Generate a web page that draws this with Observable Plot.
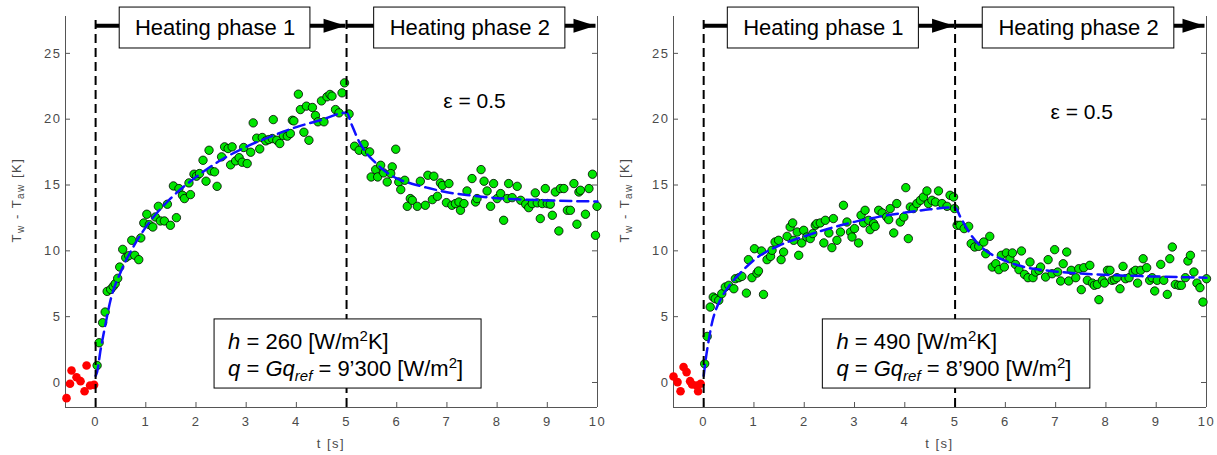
<!DOCTYPE html>
<html><head><meta charset="utf-8">
<script src="https://cdn.jsdelivr.net/npm/d3@7"></script>
<script src="https://cdn.jsdelivr.net/npm/@observablehq/plot@0.6"></script>
<style>
body{margin:0;background:#fff;}
#wrap{position:relative;width:1217px;height:455px;display:flex;}
</style></head><body><div id="wrap"></div>
<script>
// ---------- DATA ----------
const xTicks = [0,1,2,3,4,5,6,7,8,9,10];
const yTicks = [0,5,10,15,20,25];
const phaseLabels = ["Heating phase 1", "Heating phase 2"];
const epsLabel = "ε = 0.5";
const xLabel = "t [s]";
const hValues = ["260", "490"];
const qValues = ["9’300", "8’900"];

// Left panel: reference (pre-heating) points
const preT_L = [-0.58,-0.51,-0.48,-0.38,-0.30,-0.22,-0.18,-0.11,-0.03];
const preY_L = [-1.19,-0.10,0.91,0.40,0.10,-0.66,1.29,-0.23,-0.18];
// Left panel: heating phase 1 measured points
const ph1T_L = [0.03,0.07,0.14,0.19,0.23,0.30,0.35,0.39,0.44,0.48,0.54,0.60,0.66,0.72,0.78,0.86,0.90,0.96,1.02,1.07,1.14,1.19,1.25,1.29,1.37,1.43,1.49,1.61,1.55,1.66,1.73,1.77,1.89,1.86,1.96,2.01,2.07,2.14,2.20,2.26,2.30,2.37,2.42,2.51,2.57,2.64,2.72,2.69,2.79,2.86,2.92,3.02,2.95,3.09,3.14,3.21,3.27,3.32,3.39,3.45,3.54,3.52,3.61,3.67,3.74,3.82,3.88,3.92,3.95,4.04,4.08,4.15,4.20,4.25,4.32,4.38,4.43,4.50,4.55,4.61,4.67,4.71,4.78,4.85,4.91,4.96,5.05];
const ph1Y_L = [1.29,3.02,4.54,5.35,6.92,7.07,7.30,7.50,7.91,8.77,10.11,9.48,9.63,10.80,9.66,9.33,10.98,12.12,12.78,11.99,11.81,12.57,13.38,12.27,12.27,13.54,11.94,12.52,14.93,14.73,14.22,13.97,14.27,15.16,15.82,15.67,15.87,16.88,15.29,17.64,16.07,16.00,14.90,17.14,17.90,17.77,17.90,16.53,16.83,17.08,16.73,16.63,17.85,17.49,19.72,18.56,17.74,18.61,18.35,18.45,19.97,18.53,18.40,18.15,18.76,18.71,18.91,19.92,19.87,21.90,20.73,19.01,20.99,18.40,20.89,20.28,19.80,21.39,19.80,21.70,21.88,21.75,20.73,20.48,22.00,22.76,20.40];
// Left panel: heating phase 2 measured points
const ph2T_L = [5.16,5.25,5.35,5.38,5.46,5.98,5.58,5.68,5.49,5.62,5.74,5.81,5.91,5.88,6.04,6.08,6.16,6.21,6.27,6.31,6.41,6.47,6.57,6.62,6.71,6.74,6.81,6.87,6.91,6.99,7.04,7.10,7.17,7.24,7.27,7.34,7.40,7.50,7.57,7.60,7.68,7.74,7.80,7.87,7.93,8.00,8.07,8.13,8.20,8.23,8.30,8.40,8.47,8.57,8.63,8.70,8.76,8.80,8.86,8.90,8.96,9.00,9.06,9.10,9.16,9.23,9.26,9.33,9.40,9.46,9.53,9.59,9.63,9.66,9.76,9.83,9.90,9.96,9.99];
const ph2Y_L = [17.95,17.64,18.10,17.52,17.52,17.72,16.17,16.50,15.61,15.61,15.92,15.23,16.38,15.87,15.23,14.65,15.36,13.38,13.97,13.84,13.38,15.29,13.46,15.74,13.89,15.67,14.14,15.16,14.96,13.66,15.11,13.46,13.59,13.71,13.08,13.59,14.55,15.49,13.71,13.97,16.17,15.29,14.55,13.38,15.11,13.97,14.35,12.32,13.97,15.11,14.04,14.90,13.84,13.54,13.28,13.59,14.40,13.64,12.45,13.59,14.73,13.59,13.54,12.70,14.47,11.51,14.73,14.73,13.08,13.08,15.11,12.02,14.47,14.60,12.78,14.73,15.82,11.18,13.38];
// Left panel: model fit
const fitT_L = [0.0,0.03,0.10,0.17,0.30,0.50,0.75,1.0,1.5,2.0,2.5,3.0,3.5,4.0,4.5,5.0,5.1,5.25,5.4,5.55,5.75,6.0,6.3,6.6,7.0,7.5,8.0,8.5,9.0,9.5,10.0];
const fitY_L = [0.5,0.8,2.5,3.9,6.3,8.4,10.3,11.8,14.0,15.6,16.9,17.9,18.7,19.4,19.95,20.5,19.6,18.3,17.4,16.8,16.1,15.5,15.1,14.8,14.45,14.2,14.0,13.9,13.83,13.78,13.75];

// Right panel
const preT_R = [-0.60,-0.52,-0.46,-0.40,-0.34,-0.27,-0.23,-0.14,-0.11,-0.06];
const preY_R = [0.46,0.03,-0.66,1.17,0.79,0.10,-0.15,-0.23,-0.66,-0.10];
const ph1T_R = [0.02,0.07,0.13,0.19,0.23,0.30,0.36,0.43,0.50,0.60,0.63,0.70,0.76,0.85,0.89,0.96,1.01,1.06,1.09,1.15,1.19,1.26,1.33,1.36,1.42,1.49,1.54,1.59,1.66,1.72,1.77,1.79,1.86,1.89,1.95,1.99,2.05,2.12,2.17,2.22,2.25,2.32,2.39,2.42,2.49,2.55,2.58,2.65,2.72,2.78,2.85,2.92,2.95,3.00,3.08,3.13,3.18,3.21,3.28,3.31,3.38,3.41,3.48,3.55,3.64,3.68,3.71,3.78,3.84,3.91,3.98,4.02,4.07,4.11,4.17,4.24,4.31,4.37,4.44,4.47,4.54,4.61,4.67,4.74,4.84,4.90,4.97,4.99,5.04];
const ph1Y_R = [1.42,3.50,5.73,6.49,6.36,6.24,6.74,7.25,7.38,7.12,7.88,7.96,8.06,6.79,9.33,7.96,10.16,8.31,8.47,9.99,6.69,9.33,9.58,10.04,10.67,10.80,9.33,9.91,11.10,11.81,12.12,10.80,11.43,9.66,10.60,11.56,11.05,10.93,11.31,11.94,12.07,12.12,10.60,12.32,11.36,10.24,12.45,10.80,11.43,13.46,12.19,11.43,11.05,11.69,10.60,12.70,12.12,13.08,12.32,11.61,12.07,11.86,13.08,12.88,12.57,12.37,13.21,11.36,13.59,12.19,12.57,14.80,10.93,13.33,13.21,13.59,13.84,14.09,14.55,13.59,13.84,13.71,14.55,13.59,13.38,14.22,14.09,13.21,11.94];
const ph2T_R = [5.10,5.18,5.27,5.32,5.39,5.47,5.57,5.69,5.61,5.74,5.81,5.87,5.92,5.98,6.02,6.09,6.14,6.20,6.27,6.32,6.38,6.45,6.49,6.55,6.60,6.67,6.70,6.80,6.85,6.93,6.98,7.04,7.10,7.15,7.22,7.26,7.31,7.40,7.46,7.51,7.56,7.63,7.68,7.73,7.77,7.83,7.86,7.93,7.97,8.03,8.08,8.12,8.17,8.22,8.28,8.34,8.39,8.46,8.54,8.59,8.63,8.69,8.74,8.81,8.87,8.92,8.97,9.02,9.09,9.15,9.22,9.27,9.32,9.38,9.45,9.50,9.58,9.63,9.68,9.75,9.81,9.87,9.93,10.0];
const ph2Y_R = [11.94,11.69,11.86,10.55,10.29,10.34,10.67,11.10,9.78,8.77,9.02,8.57,9.66,8.77,9.84,9.40,9.84,8.97,8.57,9.99,8.21,7.96,9.15,7.96,8.39,8.52,8.77,8.01,9.33,8.26,10.09,8.39,7.71,9.02,9.91,7.71,8.52,7.96,8.64,7.05,8.72,7.76,8.90,7.55,7.38,7.45,6.29,7.76,7.55,8.52,8.52,7.76,7.81,7.96,7.12,8.82,7.88,7.96,8.39,8.52,7.55,8.52,9.40,8.72,7.76,7.96,6.95,7.76,8.97,7.76,6.69,9.40,10.29,7.45,7.38,7.38,7.96,9.23,9.66,8.39,7.55,7.20,6.11,7.88];
const fitT_R = [0.0,0.05,0.10,0.17,0.25,0.35,0.50,0.75,1.0,1.5,2.0,2.5,3.0,3.5,4.0,4.5,5.0,5.1,5.3,5.55,5.9,6.25,6.9,7.5,8.2,8.9,10.0];
const fitY_R = [0.5,2.0,3.2,4.6,5.6,6.4,7.3,8.4,9.3,10.4,11.1,11.7,12.2,12.6,12.9,13.15,13.3,12.6,11.3,10.2,9.4,8.9,8.47,8.27,8.14,8.06,7.96];

// ---------- STYLE ----------
const FONT = '"Liberation Sans", Arial, Helvetica, sans-serif';
const AX = "#555";
const TXT = "#4a4a4a";
const GREEN = "#00e600";
const RED = "#ff0000";
const BLUE = "#1010ff";
const AXIS_SPACING = "1.5px";

const arrowHead = { draw(ctx) { ctx.moveTo(0, 0); ctx.lineTo(-22, -7); ctx.lineTo(-22, 7); ctx.closePath(); } };

function zip(T, Y) { return T.map((t, i) => ({t, y: Y[i]})); }

function panel(cfg) {
  const W = cfg.width, ML = 65, MR = cfg.mr, MT = 16, MB = 48, H = 455;
  const innerW = W - ML - MR, innerH = H - MT - MB;
  const X0 = -0.6, X1 = 10, Y0 = -1.9, Y1 = 27.8;
  const pre = zip(cfg.preT, cfg.preY);
  const pts = zip(cfg.ph1T, cfg.ph1Y).concat(zip(cfg.ph2T, cfg.ph2Y));
  const fit = zip(cfg.fitT, cfg.fitY);
  const arrowY = 27.1;
  const arrows = [{from: 0, tip: 4.98}, {from: 5, tip: 9.96}];
  const boxes = [
    {x1: 0.48, x2: 4.28, label: phaseLabels[0]},
    {x1: 5.55, x2: 9.36, label: phaseLabels[1]}
  ];
  const svg = Plot.plot({
    width: W, height: H, marginLeft: ML, marginRight: MR, marginTop: MT, marginBottom: MB,
    style: {fontFamily: FONT, fontSize: "13px", background: "transparent", overflow: "visible"},
    x: {domain: [X0, X1]},
    y: {domain: [Y0, Y1]},
    marks: [
      // axis frame (left, right, bottom)
      Plot.ruleX([X0, X1], {stroke: AX, strokeWidth: 1}),
      Plot.ruleY([Y0], {stroke: AX, strokeWidth: 1}),
      Plot.tickX(xTicks, {x: d => d, insetTop: innerH - 5, stroke: AX}),
      Plot.tickY(yTicks, {y: d => d, insetRight: innerW - 5, stroke: AX}),
      Plot.tickY(yTicks, {y: d => d, insetLeft: innerW - 5, stroke: AX}),
      Plot.axisX(xTicks, {tickSize: 0, tickPadding: 9, color: TXT, fontSize: 13, label: null}),
      Plot.axisY(yTicks, {tickSize: 0, tickPadding: 4, color: TXT, fontSize: 13, label: null}),
      // data
      Plot.dot(pre, {x: "t", y: "y", r: 4.3, fill: RED, stroke: "none"}),
      Plot.dot(pts, {x: "t", y: "y", r: 4.2, fill: GREEN, stroke: "#000", strokeWidth: 0.8}),
      Plot.line(fit, {x: "t", y: "y", stroke: BLUE, strokeWidth: 2.5, strokeDasharray: "11,6", curve: "monotone-x"}),
      // phase separators
      Plot.ruleX([0, 5], {y1: Y0, y2: 27.6, stroke: "#000", strokeWidth: 2, strokeDasharray: "9,5"}),
      // phase arrows
      Plot.link(arrows, {x1: "from", x2: "tip", y1: arrowY, y2: arrowY, stroke: "#000", strokeWidth: 4}),
      Plot.dot(arrows, {x: "tip", y: arrowY, symbol: arrowHead, fill: "#000", stroke: "none"}),
      Plot.rect(boxes, {x1: "x1", x2: "x2", y1: 25.37, y2: 28.48, fill: "#fff", stroke: "#000", strokeWidth: 1}),
      Plot.text(boxes, {x: d => (d.x1 + d.x2) / 2, y: 26.93, text: "label", fill: "#000", fontSize: 22}),
      // epsilon label
      Plot.text([epsLabel], {x: cfg.epsX, y: cfg.epsY, fill: "#000", fontSize: 21}),
      // parameter box
      Plot.rect([0], {x1: 2.37, x2: 7.69, y1: -0.46, y2: 4.79, fill: "#fff", stroke: "#000", strokeWidth: 1})
    ]
  });
  // wider glyph spacing on axis labels, as in the reference rendering
  d3.select(svg).selectAll('g[aria-label="x-axis tick label"], g[aria-label="y-axis tick label"]')
    .attr("letter-spacing", AXIS_SPACING);
  const xs = svg.scale("x"), ys = svg.scale("y");
  const g = d3.select(svg).append("g").attr("font-family", FONT).attr("text-anchor", "start");
  // x-axis label
  g.append("text").attr("x", (ML + W - MR) / 2).attr("y", H - MB + 41).attr("text-anchor", "middle")
    .attr("font-size", 13).attr("letter-spacing", AXIS_SPACING).attr("fill", TXT).text(xLabel);
  // y-axis label with subscripts
  const yl = g.append("text").attr("transform", `translate(21,200) rotate(-90)`)
    .attr("text-anchor", "middle").attr("font-size", 13).attr("letter-spacing", AXIS_SPACING).attr("fill", TXT);
  yl.append("tspan").text("T");
  yl.append("tspan").attr("font-size", 10).attr("dy", 3).text("w");
  yl.append("tspan").attr("dy", -3).text(" - T");
  yl.append("tspan").attr("font-size", 10).attr("dy", 3).text("aw");
  yl.append("tspan").attr("dy", -3).text(" [K]");
  // parameter text
  const px = xs.apply(2.65);
  const l1 = g.append("text").attr("x", px).attr("y", ys.apply(2.51)).attr("font-size", 22).attr("fill", "#000");
  l1.append("tspan").attr("font-style", "italic").text("h");
  l1.append("tspan").text(` = ${cfg.h} [W/m`);
  l1.append("tspan").attr("font-size", 15).attr("dy", -8).text("2");
  l1.append("tspan").attr("dy", 8).text("K]");
  const l2 = g.append("text").attr("x", px).attr("y", ys.apply(0.42)).attr("font-size", 22).attr("fill", "#000");
  l2.append("tspan").attr("font-style", "italic").text("q");
  l2.append("tspan").text(" = ");
  l2.append("tspan").attr("font-style", "italic").text("Gq");
  l2.append("tspan").attr("font-style", "italic").attr("font-size", 15).attr("dy", 5).text("ref");
  l2.append("tspan").attr("dy", -5).text(` = ${cfg.q} [W/m`);
  l2.append("tspan").attr("font-size", 15).attr("dy", -8).text("2");
  l2.append("tspan").attr("dy", 8).text("]");
  return svg;
}

const wrap = document.getElementById("wrap");
wrap.appendChild(panel({width: 608, mr: 11, preT: preT_L, preY: preY_L, ph1T: ph1T_L, ph1Y: ph1Y_L, ph2T: ph2T_L, ph2Y: ph2Y_L, fitT: fitT_L, fitY: fitY_L, h: hValues[0], q: qValues[0], epsX: 7.55, epsY: 21.34}));
wrap.appendChild(panel({width: 609, mr: 11, preT: preT_R, preY: preY_R, ph1T: ph1T_R, ph1Y: ph1Y_R, ph2T: ph2T_R, ph2Y: ph2Y_R, fitT: fitT_R, fitY: fitY_R, h: hValues[1], q: qValues[1], epsX: 7.52, epsY: 20.5}));
</script></body></html>
